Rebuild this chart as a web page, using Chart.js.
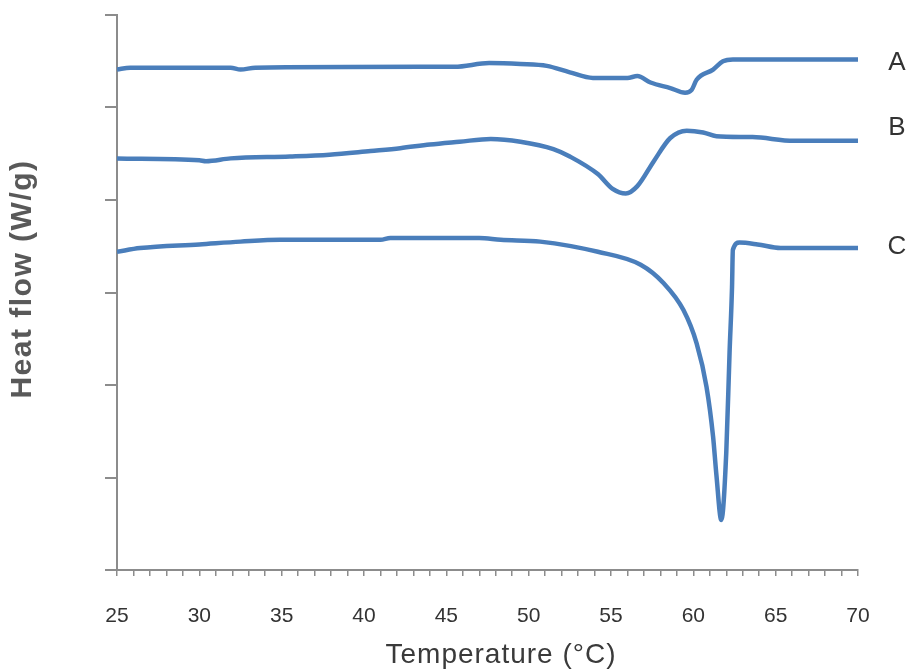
<!DOCTYPE html>
<html>
<head>
<meta charset="utf-8">
<script src="https://cdn.jsdelivr.net/npm/chart.js@4.4.1/dist/chart.umd.min.js"></script>
<style>
    body { margin: 0; background: #fff; }
    #wrap { width: 912px; height: 671px; }
</style>
</head>
<body>
<div id="wrap"><canvas id="dscChart" width="912" height="671"></canvas></div>
<script>
// Кривые ДСК (значения по оси Y в условных единицах, ось без подписей)
const tempsA = [25, 25.8, 31.9, 32.5, 33.4, 43.4, 45.5, 47.6, 49.5, 51.1, 52.5, 53.9, 56.0, 56.6, 57.4, 58.6, 59.5, 59.9, 60.2, 61.2, 61.8, 62.4, 70];
const heatA  = [5.41, 5.43, 5.43, 5.41, 5.43, 5.44, 5.44, 5.48, 5.47, 5.45, 5.38, 5.32, 5.32, 5.34, 5.27, 5.21, 5.16, 5.19, 5.30, 5.41, 5.50, 5.52, 5.52];

const tempsB = [25, 30.0, 30.4, 31.9, 35.5, 37.9, 40.4, 42.2, 44.0, 45.8, 47.7, 49.5, 51.5, 52.5, 54.2, 55.1, 55.9, 56.6, 57.6, 58.6, 59.6, 60.6, 61.4, 63.6, 66.1, 70];
const heatB  = [4.45, 4.43, 4.42, 4.45, 4.47, 4.49, 4.53, 4.56, 4.60, 4.63, 4.66, 4.63, 4.55, 4.47, 4.28, 4.12, 4.07, 4.15, 4.42, 4.67, 4.75, 4.73, 4.69, 4.68, 4.64, 4.64];

const tempsC = [25, 26.4, 30.0, 32.5, 34.9, 41.0, 41.6, 47.0, 48.3, 50.7, 54.2, 56.8, 58.2, 59.4, 60.2, 60.8, 61.2, 61.4, 61.7, 62.0, 62.2, 62.35, 62.4, 62.8, 63.9, 65.3, 70];
const heatC  = [3.44, 3.48, 3.52, 3.55, 3.57, 3.57, 3.59, 3.59, 3.57, 3.55, 3.44, 3.30, 3.10, 2.81, 2.45, 1.98, 1.44, 1.03, 0.54, 1.27, 2.35, 3.06, 3.46, 3.54, 3.52, 3.48, 3.48];

const seriesLabels = ['A', 'B', 'C'];
const xTicks = [25, 30, 35, 40, 45, 50, 55, 60, 65, 70];
const xTitle = 'Temperature (°C)';
const yTitle = 'Heat flow (W/g)';

const LINE_COLOR = '#4a7ebb';
const AXIS_COLOR = '#8c8c8c';
const FONT = '"Liberation Sans", Arial, sans-serif';

function toPoints(xs, ys) {
    return xs.map((x, i) => ({ x: x, y: ys[i] }));
}

// Подписи A, B, C справа от кривых и заголовки осей
const chartText = {
    id: 'chartText',
    afterDraw(chart) {
        const ctx = chart.ctx;
        const area = chart.chartArea;
        const yScale = chart.scales.y;
        const offsets = [3.5, -12.5, -1.5];
        ctx.save();
        ctx.textAlign = 'center';
        ctx.textBaseline = 'middle';

        ctx.font = '26px ' + FONT;
        ctx.fillStyle = '#333';
        chart.data.datasets.forEach((ds, i) => {
            const last = ds.data[ds.data.length - 1];
            ctx.fillText(seriesLabels[i], area.right + 39, yScale.getPixelForValue(last.y) + offsets[i]);
        });

        ctx.letterSpacing = '1px';
        ctx.font = '28px ' + FONT;
        ctx.fillStyle = '#3a3a3a';
        ctx.textBaseline = 'alphabetic';
        ctx.fillText(xTitle, 501, 663);

        ctx.letterSpacing = '1.5px';
        ctx.font = 'bold 30px ' + FONT;
        ctx.fillStyle = '#595959';
        ctx.translate(23, 279);
        ctx.rotate(-Math.PI / 2);
        ctx.textBaseline = 'middle';
        ctx.fillText(yTitle, 0, 0);
        ctx.restore();
    }
};

const datasets = [
    toPoints(tempsA, heatA),
    toPoints(tempsB, heatB),
    toPoints(tempsC, heatC)
].map((pts, i) => ({
    label: seriesLabels[i],
    data: pts,
    borderColor: LINE_COLOR,
    borderWidth: 4.5,
    pointRadius: 0,
    fill: false,
    cubicInterpolationMode: 'monotone'
}));

new Chart(document.getElementById('dscChart').getContext('2d'), {
    type: 'line',
    data: { datasets: datasets },
    plugins: [chartText],
    options: {
        responsive: false,
        animation: false,
        layout: { padding: { top: 15, right: 54, left: 0, bottom: 0 } },
        plugins: {
            legend: { display: false },
            tooltip: { enabled: false }
        },
        scales: {
            x: {
                type: 'linear',
                min: 25,
                max: 70,
                afterFit: scale => { scale.height = 101; },
                border: { color: AXIS_COLOR, width: 2 },
                grid: { drawOnChartArea: false, drawTicks: true, tickLength: 6, color: AXIS_COLOR, lineWidth: 1.5 },
                ticks: {
                    stepSize: 1,
                    autoSkip: false,
                    maxRotation: 0,
                    padding: 28,
                    color: '#333',
                    font: { family: FONT, size: 21 },
                    callback: v => xTicks.includes(v) ? String(v) : ''
                },
                title: { display: false }
            },
            y: {
                min: 0,
                max: 6,
                afterFit: scale => { scale.width = 117; },
                border: { color: AXIS_COLOR, width: 2 },
                grid: { drawOnChartArea: false, drawTicks: true, tickLength: 12, color: AXIS_COLOR, lineWidth: 2 },
                ticks: { stepSize: 1, display: false },
                title: { display: false }
            }
        }
    }
});
</script>
</body>
</html>
